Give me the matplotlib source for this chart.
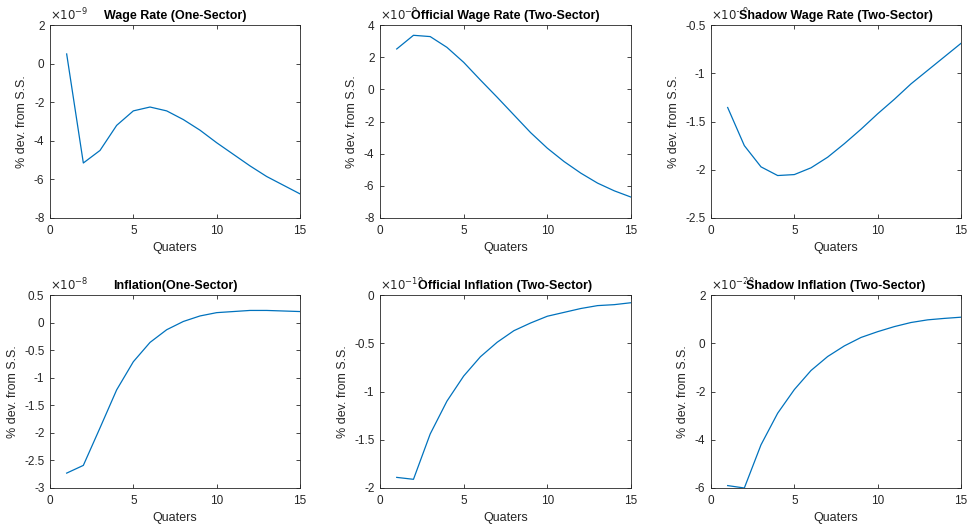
import matplotlib.pyplot as plt

plt.rcParams['font.family'] = ['Liberation Sans', 'DejaVu Sans']

# Quarters after the shock
quarters = list(range(1, 16))

# Impulse responses, in the units shown on each axis (see the exponents)
wage_one = [0.5, -5.15, -4.5, -3.2, -2.45, -2.25, -2.45, -2.9, -3.45, -4.1, -4.7, -5.3, -5.85, -6.3, -6.75]
wage_official = [2.51, 3.36, 3.28, 2.61, 1.68, 0.58, -0.49, -1.59, -2.69, -3.66, -4.49, -5.21, -5.83, -6.31, -6.70]
wage_shadow = [-1.355, -1.75, -1.97, -2.06, -2.05, -1.98, -1.87, -1.73, -1.58, -1.42, -1.27, -1.11, -0.97, -0.83, -0.69]
infl_one = [-2.73, -2.59, -1.91, -1.22, -0.71, -0.36, -0.13, 0.02, 0.12, 0.18, 0.20, 0.22, 0.22, 0.21, 0.20]
infl_official = [-1.89, -1.91, -1.44, -1.10, -0.84, -0.64, -0.49, -0.37, -0.29, -0.22, -0.18, -0.14, -0.11, -0.10, -0.08]
infl_shadow = [-5.90, -6.0, -4.21, -2.90, -1.92, -1.13, -0.55, -0.11, 0.24, 0.48, 0.69, 0.86, 0.97, 1.03, 1.08]

titles = ['Wage Rate (One-Sector)', 'Official Wage Rate (Two-Sector)', 'Shadow Wage Rate (Two-Sector)',
          'Inflation(One-Sector)', 'Official Inflation (Two-Sector)', 'Shadow Inflation (Two-Sector)']
series = [wage_one, wage_official, wage_shadow, infl_one, infl_official, infl_shadow]
exponents = ['-9', '-9', '-9', '-8', '-19', '-20']
ylims = [(-8, 2), (-8, 4), (-2.5, -0.5), (-3, 0.5), (-2, 0), (-6, 2)]
yticks = [[-8, -6, -4, -2, 0, 2],
          [-8, -6, -4, -2, 0, 2, 4],
          [-2.5, -2, -1.5, -1, -0.5],
          [-3, -2.5, -2, -1.5, -1, -0.5, 0, 0.5],
          [-2, -1.5, -1, -0.5, 0],
          [-6, -4, -2, 0, 2]]

W, H = 975, 528
cols = [(50, 300), (380, 631), (711, 961)]
rows = [(25, 218), (295, 488)]
ink = '0.15'

fig = plt.figure(figsize=(W / 100, H / 100), dpi=100)

for i in range(6):
    x0, x1 = cols[i % 3]
    y0, y1 = rows[i // 3]
    ax = fig.add_axes([x0 / W, 1 - y1 / H, (x1 - x0) / W, (y1 - y0) / H])
    ax.plot(quarters, series[i], color='#0072BD', linewidth=0.9)
    ax.set_xlim(0, 15)
    ax.set_ylim(*ylims[i])
    ax.set_xticks([0, 5, 10, 15])
    ax.set_yticks(yticks[i])
    ax.set_yticklabels([('%g' % v) for v in yticks[i]])
    ax.tick_params(direction='in', top=True, right=True, length=3, width=0.6,
                   colors=ink, labelsize=8.5)
    ax.tick_params(axis='x', pad=5)
    ax.tick_params(axis='y', pad=4)
    for s in ax.spines.values():
        s.set_color(ink)
        s.set_linewidth(0.6)
    ax.set_ylabel('% dev. from S.S.', fontsize=9, color=ink)
    ax.set_xlabel('Quaters', fontsize=9, color=ink, labelpad=4)
    ax.text(0.0, 1.01, r'$\times10^{%s}$' % exponents[i], transform=ax.transAxes,
            fontsize=8.5, color=ink, ha='left', va='bottom')
    ax.set_title(titles[i], fontsize=9, fontweight='bold', pad=4,
                 bbox=dict(facecolor='white', edgecolor='none', pad=0))

fig.savefig('out.png', dpi=100)
